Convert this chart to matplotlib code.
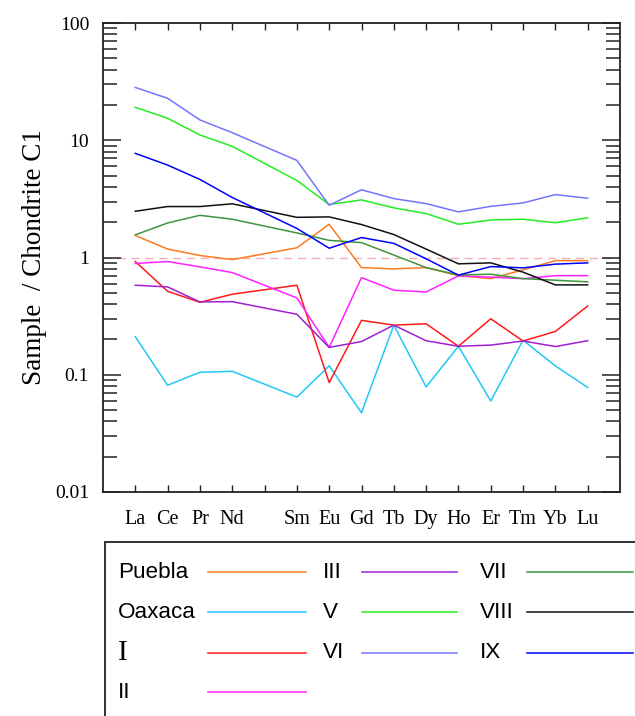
import numpy as np
import matplotlib
matplotlib.use("Agg")
import matplotlib.pyplot as plt
from matplotlib.lines import Line2D
from matplotlib.patches import Rectangle
from matplotlib.ticker import LogLocator, NullFormatter, FixedLocator

# REE, Pm has no data (blank tick)
elements = ['La', 'Ce', 'Pr', 'Nd', 'Pm', 'Sm', 'Eu', 'Gd', 'Tb', 'Dy', 'Ho', 'Er', 'Tm', 'Yb', 'Lu']
measured = ['La', 'Ce', 'Pr', 'Nd', 'Sm', 'Eu', 'Gd', 'Tb', 'Dy', 'Ho', 'Er', 'Tm', 'Yb', 'Lu']

puebla = [1.54, 1.18, 1.04, 0.96, 1.21, 1.92, 0.82, 0.80, 0.82, 0.70, 0.66, 0.785, 0.94, 0.94]
oaxaca = [0.211, 0.0813, 0.105, 0.107, 0.0645, 0.119, 0.0474, 0.265, 0.0787, 0.175, 0.0597, 0.197, 0.119, 0.078]
s_I = [0.924, 0.515, 0.415, 0.486, 0.58, 0.0857, 0.291, 0.265, 0.272, 0.175, 0.30, 0.194, 0.234, 0.386]
s_II = [0.889, 0.924, 0.832, 0.744, 0.452, 0.171, 0.674, 0.526, 0.508, 0.697, 0.68, 0.66, 0.70, 0.70]
s_III = [0.58, 0.561, 0.418, 0.42, 0.328, 0.171, 0.192, 0.265, 0.195, 0.175, 0.179, 0.194, 0.174, 0.195]
s_V = [19.1, 15.4, 11.1, 8.87, 4.54, 2.83, 3.10, 2.65, 2.37, 1.92, 2.09, 2.12, 1.98, 2.18]
s_VI = [28.2, 22.8, 14.9, 11.6, 6.73, 2.79, 3.78, 3.18, 2.88, 2.45, 2.73, 2.92, 3.44, 3.20]
s_VII = [1.56, 1.97, 2.29, 2.12, 1.62, 1.40, 1.34, 1.05, 0.82, 0.71, 0.72, 0.66, 0.64, 0.62]
s_VIII = [2.48, 2.72, 2.72, 2.87, 2.20, 2.22, 1.91, 1.57, 1.18, 0.883, 0.90, 0.75, 0.584, 0.584]
s_IX = [7.73, 6.14, 4.63, 3.25, 1.77, 1.20, 1.48, 1.32, 0.975, 0.707, 0.837, 0.816, 0.878, 0.90]

names = ['Puebla', 'Oaxaca', 'I', 'II', 'III', 'V', 'VI', 'VII', 'VIII', 'IX']
series = [puebla, oaxaca, s_I, s_II, s_III, s_V, s_VI, s_VII, s_VIII, s_IX]
colors = ['#ff7a1f', '#22c8f5', '#ff1a1a', '#ff22ff', '#a020d0', '#22ee22', '#7474ff', '#3d963d', '#111111', '#0000ff']

fig = plt.figure(figsize=(6.35, 7.16), dpi=100)
ax = fig.add_axes([103 / 635, 1 - 492 / 716, (620 - 103) / 635, (492 - 23) / 716])

xpos = [elements.index(e) for e in measured]
for name, vals, c in zip(names, series, colors):
    ax.plot(xpos, vals, color=c, lw=1.1)

ax.axhline(1, color='#f4b0b0', lw=1, ls=(0, (6, 4)), zorder=0)

ax.set_yscale('log')
ax.set_ylim(0.01, 100)
ax.set_xlim(-1, 15)
ax.xaxis.set_major_locator(FixedLocator(range(len(elements))))
ax.set_xticklabels([e if e != 'Pm' else '' for e in elements],
                   fontfamily='Liberation Serif', fontsize=14.5)
ax.yaxis.set_minor_locator(LogLocator(base=10, subs=np.arange(2, 10), numticks=10))
ax.yaxis.set_minor_formatter(NullFormatter())
ax.set_yticks([0.01, 0.1, 1, 10, 100])
ax.set_yticklabels(['0.01', '0.1', '1', '10', '100'], fontfamily='Liberation Serif', fontsize=14)
ax.tick_params(axis='both', which='both', direction='in', top=True, right=True, color='#222222')
ax.tick_params(axis='y', which='major', length=13, width=1.1, pad=10)
ax.tick_params(axis='y', which='minor', length=10, width=1.1)
ax.tick_params(axis='x', which='major', length=5, width=1.0, pad=13)
for sp in ax.spines.values():
    sp.set_linewidth(1.3)
    sp.set_color('#222222')

ax.set_ylabel('Sample  / Chondrite C1', fontfamily='Liberation Serif', fontsize=19.5, labelpad=6)

# legend box at the bottom, running off the figure edge
fig.patches.append(Rectangle((105 / 635, -0.1), 1.0, 0.1 + 1 - 542 / 716, transform=fig.transFigure,
                             fill=False, ec='#222222', lw=1.3))

rows = [572, 612, 653, 692]
cols = [(118, 208, 306), (323, 362, 457), (480, 527, 633)]
order = [names[:4], names[4:7], names[7:]]
for ci, group in enumerate(order):
    tx, lx0, lx1 = cols[ci]
    for ri, name in enumerate(group):
        k = names.index(name)
        yy = 1 - rows[ri] / 716
        if name == 'I':
            fig.text(tx / 635, yy, name, fontfamily='Liberation Serif', fontsize=21, va='center', ha='left')
        else:
            fig.text(tx / 635, yy, name, fontfamily='Liberation Sans', fontsize=16.2, va='center', ha='left')
        fig.lines.append(Line2D([lx0 / 635, lx1 / 635], [yy, yy], transform=fig.transFigure,
                                color=colors[k], lw=1.1))

fig.savefig('out.png', dpi=100)
